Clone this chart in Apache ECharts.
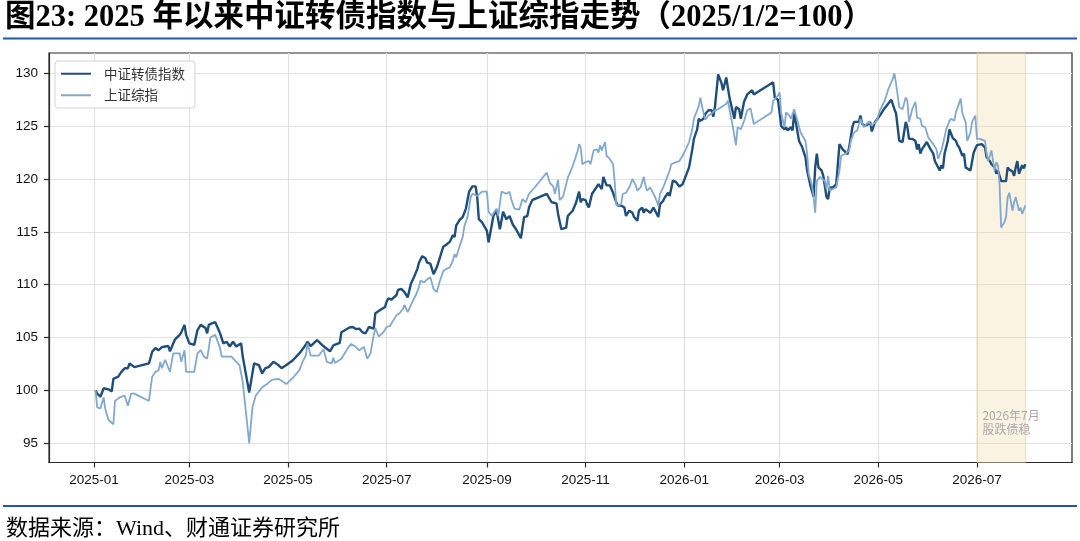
<!DOCTYPE html>
<html><head><meta charset="utf-8">
<script src="https://cdn.jsdelivr.net/npm/echarts@6/dist/echarts.min.js"></script>
<style>html,body{margin:0;padding:0;background:#fff}#c{width:1080px;height:541px}</style>
</head><body><div id="c"></div>
<script>
const titleText = '图23: 2025 年以来中证转债指数与上证综指走势（2025/1/2=100）';
const sourceText = '数据来源：Wind、财通证券研究所';
const seriesNames = ['中证转债指数', '上证综指'];
const xTicks = ['2025-01-01','2025-03-01','2025-05-01','2025-07-01','2025-09-01','2025-11-01','2026-01-01','2026-03-01','2026-05-01','2026-07-01'];
const yTicks = [95,100,105,110,115,120,125,130];
const shadeRange = ['2026-07-01', '2026-07-31'];
const shadeText = '2026年7月\n股跌债稳';

const cbData = [
['2025-01-02',100.0],['2025-01-03',99.7],['2025-01-05',99.4],['2025-01-07',100.2],['2025-01-08',100.3],
['2025-01-10',100.1],['2025-01-12',99.9],['2025-01-13',101.1],['2025-01-16',101.3],['2025-01-18',101.75],
['2025-01-20',102.1],['2025-01-22',102.1],['2025-01-23',102.55],['2025-01-26',102.2],['2025-02-04',102.55],
['2025-02-06',103.65],['2025-02-08',104.0],['2025-02-10',103.8],['2025-02-12',104.1],['2025-02-14',104.15],
['2025-02-16',104.2],['2025-02-17',103.7],['2025-02-20',104.8],['2025-02-23',105.25],['2025-02-24',105.5],
['2025-02-26',106.2],['2025-02-27',105.25],['2025-03-01',104.45],['2025-03-04',104.3],['2025-03-06',105.7],
['2025-03-08',106.2],['2025-03-11',105.9],['2025-03-12',105.4],['2025-03-13',106.2],['2025-03-15',106.35],
['2025-03-17',106.45],['2025-03-20',105.4],['2025-03-22',104.45],['2025-03-24',104.6],['2025-03-26',104.15],
['2025-03-28',104.6],['2025-03-30',104.15],['2025-04-02',104.45],['2025-04-03',103.2],['2025-04-07',99.8],
['2025-04-10',102.55],['2025-04-13',102.4],['2025-04-15',101.6],['2025-04-17',102.1],['2025-04-19',102.2],
['2025-04-22',102.7],['2025-04-25',102.4],['2025-04-27',102.1],['2025-04-30',102.4],['2025-05-04',102.85],
['2025-05-08',103.5],['2025-05-11',104.1],['2025-05-13',104.6],['2025-05-15',104.2],['2025-05-19',104.75],
['2025-05-22',104.3],['2025-05-27',103.7],['2025-05-29',104.25],['2025-06-02',104.5],['2025-06-03',105.5],
['2025-06-08',105.95],['2025-06-10',106.0],['2025-06-12',105.8],['2025-06-14',105.85],['2025-06-16',105.5],
['2025-06-18',105.4],['2025-06-20',106.0],['2025-06-23',105.85],['2025-06-24',107.3],['2025-06-27',107.6],
['2025-06-30',107.9],['2025-07-01',108.4],['2025-07-02',108.7],['2025-07-04',108.6],['2025-07-07',109.0],
['2025-07-08',109.5],['2025-07-10',109.6],['2025-07-12',109.3],['2025-07-14',108.8],['2025-07-16',110.1],
['2025-07-18',110.75],['2025-07-20',111.5],['2025-07-21',112.1],['2025-07-23',112.7],['2025-07-25',112.5],
['2025-07-26',112.1],['2025-07-28',112.0],['2025-07-30',111.0],['2025-08-01',111.65],['2025-08-03',112.6],
['2025-08-05',113.6],['2025-08-07',113.8],['2025-08-09',114.05],['2025-08-11',114.7],['2025-08-12',114.5],
['2025-08-13',115.6],['2025-08-15',116.1],['2025-08-17',116.4],['2025-08-19',117.2],['2025-08-21',118.8],
['2025-08-23',119.3],['2025-08-25',119.3],['2025-08-26',118.3],['2025-08-27',116.2],['2025-08-29',115.9],
['2025-09-01',115.1],['2025-09-02',114.0],['2025-09-03',113.9],['2025-09-05',116.5],['2025-09-07',117.0],
['2025-09-09',115.25],['2025-09-11',116.9],['2025-09-13',116.2],['2025-09-15',116.5],['2025-09-17',115.7],
['2025-09-19',115.25],['2025-09-22',114.4],['2025-09-24',116.4],['2025-09-26',116.5],['2025-09-27',117.3],
['2025-09-29',118.0],['2025-10-08',118.6],['2025-10-11',117.8],['2025-10-14',117.7],['2025-10-15',116.7],
['2025-10-17',115.25],['2025-10-20',115.4],['2025-10-21',116.5],['2025-10-24',117.0],['2025-10-26',117.7],
['2025-10-28',118.8],['2025-10-29',117.8],['2025-10-30',118.1],['2025-11-01',118.0],['2025-11-02',117.6],
['2025-11-03',117.3],['2025-11-05',118.6],['2025-11-07',119.05],['2025-11-09',119.5],['2025-11-11',119.05],
['2025-11-12',120.2],['2025-11-14',119.4],['2025-11-16',119.4],['2025-11-18',118.7],['2025-11-20',117.8],
['2025-11-21',117.5],['2025-11-23',117.5],['2025-11-25',117.3],['2025-11-26',116.5],['2025-11-28',117.0],
['2025-11-30',116.8],['2025-12-01',116.4],['2025-12-03',116.05],['2025-12-04',117.0],['2025-12-06',117.3],
['2025-12-07',116.8],['2025-12-08',117.15],['2025-12-09',117.3],['2025-12-11',116.8],['2025-12-13',117.3],
['2025-12-14',117.15],['2025-12-16',116.4],['2025-12-17',117.6],['2025-12-19',117.95],['2025-12-20',118.25],
['2025-12-22',118.7],['2025-12-23',118.4],['2025-12-25',119.85],['2025-12-27',119.7],['2025-12-29',119.3],
['2025-12-31',119.5],['2026-01-02',120.3],['2026-01-04',121.1],['2026-01-06',122.8],['2026-01-07',123.8],
['2026-01-09',124.7],['2026-01-10',125.7],['2026-01-11',125.5],['2026-01-13',125.7],['2026-01-14',126.15],
['2026-01-16',126.5],['2026-01-18',126.5],['2026-01-19',125.9],['2026-01-20',126.8],['2026-01-22',129.9],
['2026-01-24',129.1],['2026-01-25',128.4],['2026-01-27',129.6],['2026-01-29',127.7],['2026-02-01',125.7],
['2026-02-02',126.8],['2026-02-04',126.6],['2026-02-05',125.7],['2026-02-07',127.3],['2026-02-09',128.0],
['2026-02-10',127.9],['2026-02-12',128.4],['2026-02-13',128.0],['2026-02-25',129.15],['2026-02-26',127.7],
['2026-02-28',127.5],['2026-03-01',127.4],['2026-03-02',125.0],['2026-03-04',124.7],['2026-03-05',124.9],
['2026-03-06',124.6],['2026-03-08',124.9],['2026-03-09',124.6],['2026-03-10',126.2],['2026-03-11',125.4],
['2026-03-13',123.6],['2026-03-14',123.5],['2026-03-15',123.0],['2026-03-17',122.05],['2026-03-18',120.8],
['2026-03-20',119.4],['2026-03-22',118.3],['2026-03-23',121.1],['2026-03-24',122.4],['2026-03-25',121.1],
['2026-03-27',120.8],['2026-03-28',120.3],['2026-03-30',118.3],['2026-03-31',118.1],['2026-04-01',119.2],
['2026-04-03',119.2],['2026-04-05',119.5],['2026-04-07',123.3],['2026-04-09',122.8],['2026-04-12',122.35],
['2026-04-13',123.0],['2026-04-15',124.9],['2026-04-16',125.4],['2026-04-19',125.4],['2026-04-20',126.0],
['2026-04-21',125.2],['2026-04-23',125.05],['2026-04-25',125.2],['2026-04-26',125.4],['2026-04-27',124.5],
['2026-04-29',125.4],['2026-05-02',126.0],['2026-05-04',126.5],['2026-05-07',127.1],['2026-05-09',127.5],
['2026-05-10',127.6],['2026-05-11',126.6],['2026-05-12',126.2],['2026-05-13',124.9],['2026-05-14',123.6],
['2026-05-16',123.5],['2026-05-17',123.5],['2026-05-18',125.4],['2026-05-19',124.9],['2026-05-20',123.8],
['2026-05-22',123.8],['2026-05-24',123.6],['2026-05-25',122.8],['2026-05-26',123.3],['2026-05-27',122.4],
['2026-05-28',122.8],['2026-05-29',122.7],['2026-05-31',123.5],['2026-06-02',122.9],['2026-06-04',122.4],
['2026-06-05',121.7],['2026-06-07',121.1],['2026-06-08',120.8],['2026-06-09',121.3],['2026-06-10',121.0],
['2026-06-11',122.4],['2026-06-13',123.6],['2026-06-14',124.7],['2026-06-16',123.9],['2026-06-18',123.6],
['2026-06-19',123.2],['2026-06-20',123.0],['2026-06-22',122.2],['2026-06-23',122.4],['2026-06-24',121.1],
['2026-06-27',120.8],['2026-06-29',122.5],['2026-07-01',123.2],['2026-07-02',123.1],['2026-07-04',123.3],
['2026-07-06',123.0],['2026-07-07',122.05],['2026-07-09',121.7],['2026-07-10',121.4],['2026-07-12',121.1],
['2026-07-13',120.5],['2026-07-14',120.8],['2026-07-16',119.8],['2026-07-19',119.8],['2026-07-20',121.1],
['2026-07-21',120.9],['2026-07-23',120.7],['2026-07-24',120.3],['2026-07-25',121.1],['2026-07-26',121.7],
['2026-07-27',120.5],['2026-07-29',121.3],['2026-07-30',121.0],['2026-07-31',121.4]
];

const shData = [
['2025-01-02',100.0],['2025-01-03',98.4],['2025-01-05',98.3],['2025-01-07',99.35],['2025-01-08',98.25],
['2025-01-10',97.2],['2025-01-13',96.8],['2025-01-14',99.0],['2025-01-17',99.35],['2025-01-20',99.5],
['2025-01-22',98.55],['2025-01-24',99.7],['2025-01-26',99.7],['2025-02-04',99.0],['2025-02-06',101.3],
['2025-02-08',101.75],['2025-02-10',101.9],['2025-02-11',102.7],['2025-02-12',102.1],['2025-02-14',102.9],
['2025-02-15',103.0],['2025-02-17',101.75],['2025-02-19',103.5],['2025-02-23',103.5],['2025-02-24',102.7],
['2025-02-26',103.8],['2025-02-27',101.75],['2025-03-04',101.75],['2025-03-06',103.5],['2025-03-08',103.8],
['2025-03-10',103.2],['2025-03-12',103.0],['2025-03-14',105.0],['2025-03-17',105.25],['2025-03-20',104.0],
['2025-03-21',103.2],['2025-03-25',103.2],['2025-03-27',103.2],['2025-03-30',102.7],['2025-04-01',102.4],
['2025-04-03',100.8],['2025-04-07',95.0],['2025-04-09',98.4],['2025-04-11',99.5],['2025-04-15',100.3],
['2025-04-18',100.6],['2025-04-21',101.0],['2025-04-25',101.1],['2025-04-30',100.6],['2025-05-04',101.2],
['2025-05-08',101.9],['2025-05-10',102.7],['2025-05-12',103.3],['2025-05-13',104.45],['2025-05-15',103.3],
['2025-05-20',103.3],['2025-05-23',103.9],['2025-05-25',102.7],['2025-05-28',102.55],['2025-05-29',103.1],
['2025-05-30',102.6],['2025-06-03',103.0],['2025-06-07',104.0],['2025-06-09',104.4],['2025-06-12',104.1],
['2025-06-14',103.8],['2025-06-17',104.1],['2025-06-19',103.0],['2025-06-21',103.5],['2025-06-23',105.2],
['2025-06-24',105.9],['2025-06-26',105.1],['2025-06-29',105.5],['2025-07-01',106.0],['2025-07-03',106.1],
['2025-07-05',106.6],['2025-07-07',107.1],['2025-07-09',107.3],['2025-07-11',107.7],['2025-07-12',108.1],
['2025-07-14',107.4],['2025-07-17',108.4],['2025-07-19',109.0],['2025-07-21',109.8],['2025-07-22',110.4],
['2025-07-24',110.2],['2025-07-26',110.5],['2025-07-28',110.7],['2025-07-30',109.6],['2025-08-01',109.3],
['2025-08-03',110.4],['2025-08-05',111.3],['2025-08-07',111.5],['2025-08-09',111.65],['2025-08-11',112.3],
['2025-08-12',112.9],['2025-08-13',112.6],['2025-08-15',113.6],['2025-08-17',114.5],['2025-08-18',115.5],
['2025-08-20',116.4],['2025-08-22',118.3],['2025-08-23',118.6],['2025-08-26',118.4],['2025-08-29',118.8],
['2025-09-01',118.8],['2025-09-02',116.9],['2025-09-04',116.5],['2025-09-06',117.0],['2025-09-07',117.2],
['2025-09-08',116.5],['2025-09-10',118.8],['2025-09-13',118.6],['2025-09-15',118.8],['2025-09-16',118.1],
['2025-09-18',117.2],['2025-09-21',117.1],['2025-09-23',118.1],['2025-09-25',117.8],['2025-09-27',118.6],
['2025-09-30',119.1],['2025-10-08',120.6],['2025-10-10',119.6],['2025-10-12',119.3],['2025-10-13',118.6],
['2025-10-15',119.9],['2025-10-16',118.0],['2025-10-18',118.3],['2025-10-21',120.1],['2025-10-22',120.1],
['2025-10-24',121.2],['2025-10-27',122.6],['2025-10-28',123.3],['2025-10-29',123.0],['2025-10-30',121.4],
['2025-11-01',121.6],['2025-11-03',121.7],['2025-11-04',121.4],['2025-11-06',122.7],['2025-11-08',122.8],
['2025-11-09',122.5],['2025-11-10',123.2],['2025-11-11',122.7],['2025-11-13',123.5],['2025-11-14',122.2],
['2025-11-16',121.9],['2025-11-18',121.4],['2025-11-19',119.8],['2025-11-20',117.5],['2025-11-23',117.6],
['2025-11-24',118.6],['2025-11-26',118.7],['2025-11-28',119.2],['2025-11-30',120.0],['2025-12-02',119.4],
['2025-12-03',118.9],['2025-12-05',119.2],['2025-12-07',120.2],['2025-12-08',119.4],['2025-12-09',118.9],
['2025-12-11',119.2],['2025-12-13',118.6],['2025-12-14',118.3],['2025-12-16',117.5],['2025-12-17',118.6],
['2025-12-19',119.2],['2025-12-21',120.0],['2025-12-23',120.8],['2025-12-24',121.4],['2025-12-27',121.6],
['2025-12-29',121.7],['2025-12-31',122.2],['2026-01-02',122.8],['2026-01-04',123.5],['2026-01-06',124.7],
['2026-01-07',125.7],['2026-01-09',126.5],['2026-01-10',126.9],['2026-01-11',127.7],['2026-01-12',126.9],
['2026-01-13',126.2],['2026-01-14',125.6],['2026-01-16',126.0],['2026-01-18',126.2],['2026-01-20',126.5],
['2026-01-22',126.6],['2026-01-24',126.8],['2026-01-27',127.1],['2026-01-28',127.4],['2026-01-29',126.6],
['2026-01-31',125.0],['2026-02-02',123.2],['2026-02-03',124.9],['2026-02-05',124.7],['2026-02-07',125.5],
['2026-02-09',126.5],['2026-02-11',126.7],['2026-02-13',125.2],['2026-02-24',126.3],['2026-02-25',127.4],
['2026-02-28',127.9],['2026-03-01',128.2],['2026-03-02',126.2],['2026-03-04',124.9],['2026-03-05',126.3],
['2026-03-07',126.0],['2026-03-08',125.7],['2026-03-10',126.6],['2026-03-11',126.5],['2026-03-12',125.5],
['2026-03-14',124.4],['2026-03-15',124.4],['2026-03-17',123.6],['2026-03-18',122.4],['2026-03-19',120.5],
['2026-03-21',119.4],['2026-03-22',118.3],['2026-03-23',116.8],['2026-03-24',119.8],['2026-03-26',120.2],
['2026-03-27',120.3],['2026-03-29',119.8],['2026-03-30',119.05],['2026-03-31',120.3],['2026-04-01',118.9],
['2026-04-03',119.05],['2026-04-05',119.2],['2026-04-07',120.8],['2026-04-08',122.2],['2026-04-09',122.05],
['2026-04-11',122.4],['2026-04-13',122.7],['2026-04-14',123.6],['2026-04-16',124.4],['2026-04-18',124.6],
['2026-04-20',125.7],['2026-04-22',124.9],['2026-04-23',125.05],['2026-04-25',125.4],['2026-04-27',125.05],
['2026-04-30',125.5],['2026-05-02',126.5],['2026-05-05',127.4],['2026-05-07',128.4],['2026-05-10',129.5],
['2026-05-11',130.0],['2026-05-12',129.0],['2026-05-14',126.8],['2026-05-16',126.6],['2026-05-18',127.7],
['2026-05-19',127.4],['2026-05-20',125.4],['2026-05-22',126.6],['2026-05-24',127.3],['2026-05-25',125.8],
['2026-05-27',125.7],['2026-05-28',125.05],['2026-05-30',124.9],['2026-06-01',123.9],['2026-06-04',123.3],
['2026-06-06',122.8],['2026-06-07',121.9],['2026-06-09',122.7],['2026-06-10',123.3],['2026-06-12',124.7],
['2026-06-14',125.5],['2026-06-15',125.7],['2026-06-17',125.5],['2026-06-18',126.3],['2026-06-21',127.6],
['2026-06-22',126.2],['2026-06-23',126.3],['2026-06-24',125.4],['2026-06-25',123.6],['2026-06-27',124.4],
['2026-06-28',125.4],['2026-06-30',126.0],['2026-07-01',123.8],['2026-07-03',123.8],['2026-07-04',123.9],
['2026-07-06',123.6],['2026-07-07',122.4],['2026-07-08',121.7],['2026-07-10',122.7],['2026-07-11',121.7],
['2026-07-12',120.8],['2026-07-13',121.6],['2026-07-14',121.3],['2026-07-15',119.5],['2026-07-16',115.4],
['2026-07-18',115.9],['2026-07-19',116.4],['2026-07-20',118.3],['2026-07-21',118.7],['2026-07-23',117.0],
['2026-07-24',117.8],['2026-07-25',118.3],['2026-07-27',117.0],['2026-07-28',117.3],['2026-07-29',116.7],
['2026-07-31',117.5]
];

const DAY = 86400000;
const toTs = s => { const p = s.split('-'); return Date.UTC(+p[0], +p[1] - 1, +p[2]); };
const base = toTs('2025-01-01');
const xMin = base - 27.8 * DAY;
const xMax = base + 604.8 * DAY;
const xTickValues = xTicks.map(toTs);
const fmtMonth = v => { const d = new Date(v); return d.getUTCFullYear() + '-' + String(d.getUTCMonth() + 1).padStart(2, '0'); };
const cbSeries = cbData.map(([d, v]) => [toTs(d), v]);
const shSeries = shData.map(([d, v]) => [toTs(d), v]);

const chart = echarts.init(document.getElementById('c'), null, {renderer: 'canvas'});
const blue = '#1e5aa8';
chart.setOption({
  backgroundColor: '#fff',
  animation: false,
  title: {
    text: titleText, left: 5, top: 3, padding: 0,
    textStyle: {fontSize: 30.5, fontWeight: 'bold', color: '#000', fontFamily: "'Liberation Serif', 'Noto Sans CJK SC', serif", lineHeight: 30}
  },
  graphic: [
    {type: 'line', shape: {x1: 3, y1: 38.5, x2: 1077, y2: 38.5}, style: {stroke: blue, lineWidth: 2.2}, silent: true},
    {type: 'line', shape: {x1: 3, y1: 506, x2: 1077, y2: 506}, style: {stroke: blue, lineWidth: 2.2}, silent: true},
    {type: 'text', left: 6, top: 518, style: {text: sourceText, fill: '#000', font: "22px 'Liberation Serif', 'Noto Sans CJK SC', serif"}, silent: true}
  ],
  legend: {
    data: seriesNames, orient: 'vertical', left: 55, top: 61,
    padding: [6, 10, 6, 5], itemWidth: 30, itemHeight: 14, itemGap: 8,
    itemStyle: {opacity: 0},
    borderColor: '#d2d2d2', borderWidth: 1, borderRadius: 3, backgroundColor: 'rgba(255,255,255,0.85)',
    textStyle: {fontSize: 13.5, color: '#333', fontFamily: "'Noto Sans CJK SC'", padding: [0, 0, 0, 8]}
  },
  grid: {left: 49, top: 53, right: 8, bottom: 78.5, show: true, borderColor: '#2b2b2b', borderWidth: 1.2, containLabel: false},
  xAxis: {
    type: 'value', min: xMin, max: xMax, scale: true,
    axisLine: {show: true, lineStyle: {color: '#2b2b2b', width: 1.2}},
    axisTick: {show: true, length: 5, lineStyle: {color: '#2b2b2b', width: 1.2}, customValues: xTickValues},
    axisLabel: {customValues: xTickValues, formatter: fmtMonth, fontSize: 13.5, color: '#111', margin: 11, fontFamily: "'Liberation Sans', Arial, sans-serif"},
    splitLine: {show: true, lineStyle: {color: '#e2e2e2', width: 1.2}}
  },
  yAxis: {
    type: 'value', min: 93.18, max: 131.92,
    axisLine: {show: true, lineStyle: {color: '#2b2b2b', width: 1.2}},
    axisTick: {show: true, length: 5, lineStyle: {color: '#2b2b2b', width: 1.2}, customValues: yTicks},
    axisLabel: {customValues: yTicks, fontSize: 13.5, color: '#111', margin: 11, fontFamily: "'Liberation Sans', Arial, sans-serif"},
    splitLine: {show: true, lineStyle: {color: '#e2e2e2', width: 1.2}}
  },
  series: [
    {
      name: seriesNames[0], type: 'line', data: cbSeries, symbol: 'none', showSymbol: false,
      lineStyle: {color: '#1f4e7a', width: 2.4}, itemStyle: {color: '#1f4e7a'}, z: 3,
      markArea: {
        silent: true,
        itemStyle: {color: 'rgba(238,215,160,0.3)', borderColor: 'rgba(215,195,150,0.45)', borderWidth: 1},
        label: {show: true, position: 'insideBottomLeft', distance: 5, offset: [1, -22], formatter: shadeText,
                color: '#a9a9a9', fontSize: 12, lineHeight: 14, fontFamily: "'Noto Sans CJK SC'"},
        data: [[{xAxis: toTs(shadeRange[0])}, {xAxis: toTs(shadeRange[1])}]]
      }
    },
    {
      name: seriesNames[1], type: 'line', data: shSeries, symbol: 'none', showSymbol: false,
      lineStyle: {color: '#82a8d0', width: 1.8}, itemStyle: {color: '#82a8d0'}, z: 4
    }
  ]
});
</script>
</body></html>
